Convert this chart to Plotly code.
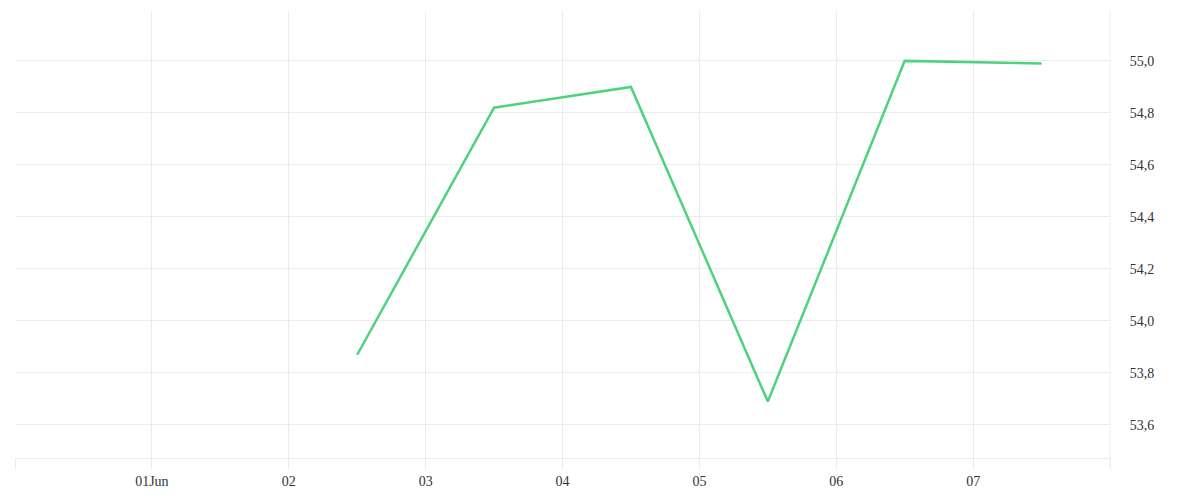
import plotly.graph_objects as go

dates = ["2024-06-02 12:00", "2024-06-03 12:00", "2024-06-04 12:00",
         "2024-06-05 12:00", "2024-06-06 12:00", "2024-06-07 12:00"]
values = [53.87, 54.82, 54.90, 53.69, 55.00, 54.99]

tick_dates = ["2024-05-31", "2024-06-01", "2024-06-02", "2024-06-03", "2024-06-04",
              "2024-06-05", "2024-06-06", "2024-06-07", "2024-06-08"]
tick_labels = ["", "01Jun", "02", "03", "04", "05", "06", "07", ""]
y_ticks = [53.6, 53.8, 54.0, 54.2, 54.4, 54.6, 54.8, 55.0]

grid = "#ececec"
fig = go.Figure(go.Scatter(
    x=dates, y=values, mode="lines",
    line=dict(color="#4fd27d", width=2.5),
    hoverinfo="x+y",
))

fig.update_layout(
    width=1200, height=500,
    margin=dict(l=7, r=98, t=4, b=50),
    paper_bgcolor="white", plot_bgcolor="white",
    showlegend=False,
    separators=",.",
    font=dict(family="Liberation Serif, DejaVu Serif, serif", size=14, color="#333"),
)
fig.update_xaxes(
    type="date",
    range=["2024-05-31", "2024-06-08"],
    tickvals=tick_dates, ticktext=tick_labels,
    showgrid=True, gridcolor=grid, gridwidth=1,
    ticks="outside", ticklen=10, tickcolor=grid, tickwidth=1,
    showline=True, linecolor=grid, linewidth=1,
    zeroline=False,
)
fig.update_yaxes(
    side="right",
    range=[53.473, 55.188],
    tickvals=y_ticks, tickformat=".1f",
    showgrid=True, gridcolor=grid, gridwidth=1,
    ticks="outside", ticklen=16, tickcolor="rgba(0,0,0,0)",
    showline=False,
    zeroline=False,
)
fig.add_shape(type="line", xref="paper", yref="paper", x0=1, x1=1, y0=-0.022, y1=1,
              line=dict(color=grid, width=1))

fig.write_html("out.html")
